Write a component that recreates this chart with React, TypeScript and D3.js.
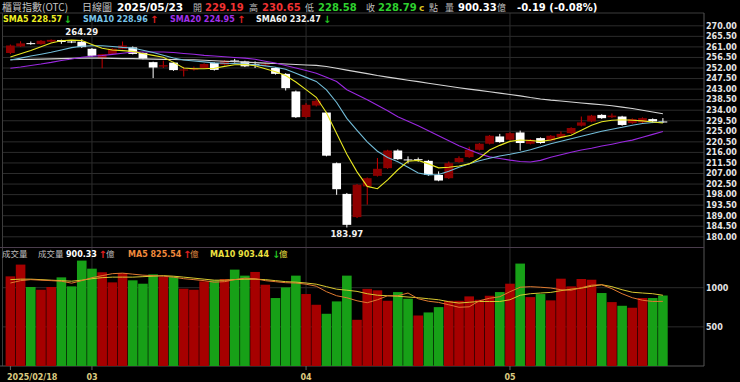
import React, { useEffect } from 'react';
import * as d3 from 'd3';

const febDays = [18, 19, 20, 21, 24, 25, 26, 27];
const marDays = [3, 4, 5, 6, 7, 10, 11, 12, 13, 14, 17, 18, 19, 20, 21, 24, 25, 26, 27, 28, 31];
const aprDays = [1, 2, 7, 8, 9, 10, 11, 14, 15, 16, 17, 18, 21, 22, 23, 24, 25, 28, 29, 30];
const mayDays = [2, 5, 6, 7, 8, 9, 12, 13, 14, 15, 16, 19, 20, 21, 22, 23];

const pad = (n: number) => (n < 10 ? '0' + n : '' + n);
const dates: string[] = [
  ...febDays.map((d) => `2025/02/${pad(d)}`),
  ...marDays.map((d) => `2025/03/${pad(d)}`),
  ...aprDays.map((d) => `2025/04/${pad(d)}`),
  ...mayDays.map((d) => `2025/05/${pad(d)}`),
];

const opens = [258.4, 261.2, 262.6, 262.2, 263.2, 263.9, 263.3, 263.2, 260.2, 256.2,
  258.0, 260.2, 260.8, 258.4, 254.5, 252.6, 254.3, 250.9, 251.3, 252.0,
  254.1, 253.4, 255.2, 254.8, 253.6, 253.1, 252.0, 249.5, 242.0, 231.1,
  236.0, 233.0, 211.4, 198.3, 188.4, 201.5, 206.0, 209.3, 216.8, 213.0,
  213.1, 212.4, 206.4, 205.0, 211.9, 214.0, 217.1, 219.7, 222.8, 221.4,
  224.5, 219.7, 222.1, 221.1, 222.5, 224.2, 227.4, 229.2, 232.0, 231.0,
  231.3, 228.5, 228.8, 230.2, 229.19];
const highs = [262.0, 263.4, 263.3, 263.9, 264.2, 264.1, 263.8, 264.29, 260.5, 258.0,
  260.4, 263.3, 261.2, 258.7, 254.7, 255.1, 254.6, 252.5, 252.6, 254.0,
  254.4, 255.4, 255.9, 255.1, 254.8, 254.2, 252.3, 249.8, 242.4, 237.0,
  238.6, 233.3, 211.7, 198.7, 202.5, 205.3, 213.6, 217.1, 217.3, 214.3,
  213.8, 212.8, 207.9, 212.1, 214.3, 218.4, 220.0, 223.4, 223.9, 224.6,
  225.3, 221.7, 222.4, 223.4, 224.9, 226.7, 231.3, 232.0, 232.3, 232.6,
  231.6, 230.5, 230.9, 230.5, 230.65];
const lows = [257.9, 261.0, 261.9, 261.9, 262.9, 262.3, 262.6, 260.6, 256.8, 251.9,
  257.8, 260.0, 257.8, 255.7, 247.7, 252.0, 250.8, 248.4, 250.9, 251.7,
  250.9, 253.1, 254.3, 252.4, 252.0, 252.8, 249.2, 242.4, 230.7, 230.8,
  235.6, 214.3, 197.9, 183.97, 188.0, 193.7, 205.7, 209.0, 212.8, 211.3,
  212.0, 206.0, 203.7, 204.7, 211.6, 213.7, 216.8, 219.4, 220.1, 221.1,
  216.8, 219.4, 219.7, 220.8, 222.2, 223.9, 227.1, 228.9, 230.3, 230.7,
  227.4, 228.2, 228.5, 228.5, 228.58];
const closes = [261.6, 262.5, 262.4, 263.6, 264.0, 263.1, 263.0, 260.9, 257.2, 257.9,
  260.2, 261.6, 258.0, 256.0, 252.2, 253.2, 251.1, 251.4, 251.8, 253.7,
  251.2, 255.1, 255.0, 252.7, 253.3, 253.6, 249.5, 243.4, 231.0, 236.3,
  238.0, 214.6, 200.3, 185.1, 202.2, 205.0, 209.0, 216.8, 213.1, 212.8,
  212.9, 206.4, 204.0, 211.4, 213.6, 217.1, 219.7, 223.1, 220.4, 224.2,
  220.0, 221.4, 220.0, 223.1, 223.9, 226.4, 228.8, 231.7, 230.6, 231.7,
  227.7, 230.2, 230.6, 229.2, 228.79];
const volumes = [1145, 1295, 1009, 974, 1009, 1132, 1017, 1346, 1243, 1197,
  1068, 1188, 1094, 1051, 1171, 1137, 1145, 987, 974, 1081,
  1094, 1111, 1231, 1154, 1201, 1038, 868, 1004, 1154, 919,
  782, 667, 825, 1154, 590, 985, 966, 833, 944, 859,
  645, 684, 752, 833, 833, 889, 846, 897, 944, 1051,
  1308, 880, 919, 838, 1115, 1017, 1111, 1102, 932, 816,
  769, 744, 868, 868, 900.33];

const sma5 = [256.7, 258.1, 259.5, 261.1, 262.7, 263.6, 263.9, 263.7, 262.0, 260.4,
  259.7, 259.4, 259.1, 258.2, 257.4, 256.6, 254.4, 252.0, 251.7, 251.7,
  251.9, 252.7, 253.4, 253.5, 252.95, 251.7, 250.4, 248.8, 246.0, 242.8,
  239.5, 232.9, 224.1, 215.2, 207.7, 201.5, 200.5, 204.3, 208.6, 212.2,
  212.6, 211.1, 209.4, 209.65, 210.2, 211.1, 213.5, 217.0, 219.0, 220.7,
  221.3, 221.1, 220.7, 221.3, 222.4, 223.3, 225.4, 227.6, 229.1, 229.7,
  229.9, 229.7, 229.45, 228.95, 228.57];
const sma10 = [255.4, 256.2, 257.1, 257.9, 258.7, 259.7, 260.7, 261.3, 261.5, 261.5,
  261.2, 260.8, 260.5, 259.6, 258.6, 257.4, 256.3, 255.4, 255.0, 254.6,
  254.2, 254.0, 253.9, 253.7, 253.4, 252.9, 252.35, 251.5, 249.75, 248.0,
  246.3, 242.7, 237.3, 230.5, 225.4, 220.5, 216.5, 213.8, 212.0, 209.7,
  207.2, 206.4, 206.6, 207.95, 209.65, 211.15, 212.4, 213.5, 214.5, 215.2,
  216.05, 217.1, 218.4, 219.7, 220.75, 221.8, 222.9, 223.95, 225.0, 225.9,
  226.7, 227.6, 228.3, 228.75, 228.96];
const sma20 = [251.9, 252.4, 253.1, 253.7, 254.4, 255.2, 255.85, 256.6, 257.0, 257.3,
  257.8, 258.3, 258.8, 258.8, 258.8, 258.8, 258.6, 258.2, 257.85, 257.4,
  257.1, 256.8, 256.5, 256.2, 255.7, 254.9, 254.1, 253.1, 252.0, 250.9,
  249.8, 248.05, 246.2, 242.7, 240.6, 238.45, 236.1, 233.75, 231.2, 229.3,
  227.35, 225.2, 223.1, 221.0, 218.8, 217.1, 215.4, 214.1, 213.4, 212.7,
  212.1, 211.9, 212.6, 213.9, 215.0, 216.05, 217.0, 217.8, 218.7, 219.5,
  220.4, 221.25, 222.45, 223.7, 224.95];
const sma60 = [255.5, 255.6, 255.7, 255.8, 255.9, 256.0, 256.1, 256.2, 256.2, 256.2,
  256.1, 256.0, 256.0, 255.9, 255.8, 255.7, 255.6, 255.5, 255.5, 255.3,
  255.1, 254.9, 254.7, 254.5, 254.3, 254.1, 253.9, 253.7, 253.5, 253.3,
  253.1, 252.65, 251.9, 251.1, 250.35, 249.6, 248.8, 248.1, 247.45, 246.8,
  246.2, 245.5, 244.85, 244.2, 243.6, 243.0, 242.45, 241.86, 241.3, 240.7,
  240.1, 239.4, 238.8, 238.3, 237.9, 237.5, 237.1, 236.7, 236.3, 235.9,
  235.3, 234.7, 234.0, 233.2, 232.47];
const volMa5 = [1060, 1090, 1103, 1096, 1090, 1083, 1058, 1090, 1128, 1154,
  1179, 1186, 1173, 1160, 1154, 1147, 1135, 1115, 1103, 1090,
  1071, 1077, 1103, 1122, 1115, 1090, 1077, 1064, 1060, 1045,
  1019, 949, 897, 872, 833, 808, 846, 897, 897, 932,
  859, 827, 812, 782, 750, 756, 833, 865, 885, 949,
  1006, 1013, 1006, 996, 974, 968, 1000, 1032, 1038, 987,
  923, 872, 840, 824, 825.54];
const volMa10 = [1103, 1109, 1109, 1103, 1096, 1090, 1083, 1096, 1115, 1128,
  1135, 1135, 1135, 1141, 1147, 1154, 1147, 1135, 1122, 1109,
  1096, 1096, 1103, 1109, 1109, 1103, 1090, 1077, 1071, 1060,
  1045, 1013, 981, 968, 953, 923, 904, 897, 891, 881,
  872, 859, 846, 821, 804, 814, 824, 824, 824, 846,
  904, 923, 932, 940, 962, 981, 994, 1019, 1038, 1013,
  974, 942, 932, 923, 903.44];

const priceTicks = [270, 265.5, 261, 256.5, 252, 247.5, 243, 238.5, 234, 229.5, 225,
  220.5, 216, 211.5, 207, 202.5, 198, 193.5, 189, 184.5, 180];
const volTicks = [500, 1000];

const NUM = '"DejaVu Sans", Verdana, sans-serif';
const CJK = '"Noto Sans CJK TC", "Noto Sans CJK SC", sans-serif';

export default function App() {
  useEffect(() => {
    document.body.style.margin = '0';
    document.body.style.background = '#000';
  }, []);

  const left = 2.5, right = 704, top = 13, mainBottom = 247.5, volBottom = 366;
  const x = d3.scaleBand<string>().domain(dates).range([5.3, 668]).padding(0);
  const bw = x.bandwidth();
  const cx = (i: number) => (x(dates[i]) as number) + bw / 2;
  const y = d3.scaleLinear().domain([180, 270]).range([236.8, 25.8]);
  const vy = d3.scaleLinear().domain([0, 1000]).range([volBottom, 287.7]);

  const line = d3.line<number>().x((_, i) => cx(i)).y((v) => y(v));
  const vline = d3.line<number>().x((_, i) => cx(i)).y((v) => vy(v));

  const monthStarts = dates
    .map((d, i) => ({ d, i }))
    .filter(({ d, i }) => i === 0 || d.slice(5, 7) !== dates[i - 1].slice(5, 7));

  const hiI = d3.maxIndex(highs);
  const loI = d3.minIndex(lows);
  const bodyW = bw * 0.86;

  const grid = '#2c2c2c';
  const border = '#3c3c3c';
  const arrowSize = 10;

  return (
    <svg width={740} height={382} style={{ display: 'block', position: 'absolute', left: 0, top: 0, background: '#000' }}>
      <rect x={0} y={0} width={740} height={382} fill="#000" />
      {priceTicks.map((t) => (
        <line key={'g' + t} x1={left} x2={right} y1={y(t)} y2={y(t)} stroke={grid} strokeWidth={1} />
      ))}
      {volTicks.map((t) => (
        <line key={'vg' + t} x1={left} x2={right} y1={vy(t)} y2={vy(t)} stroke={grid} strokeWidth={1} />
      ))}
      {monthStarts.filter((m) => m.i > 0).map((m) => (
        <line key={'vm' + m.i} x1={cx(m.i)} x2={cx(m.i)} y1={top} y2={volBottom} stroke={grid} strokeWidth={1} />
      ))}
      <line x1={0} x2={right} y1={top} y2={top} stroke={border} />
      <line x1={left} x2={left} y1={top} y2={volBottom} stroke={border} />
      <line x1={right} x2={right} y1={top} y2={volBottom} stroke="#555" />
      <line x1={0} x2={right} y1={mainBottom} y2={mainBottom} stroke="#4a3c4c" />
      <line x1={0} x2={right} y1={volBottom} y2={volBottom} stroke="#555" />

      {volumes.map((v, i) => {
        const up = i === 0 ? closes[i] >= opens[i] : closes[i] >= closes[i - 1];
        return (
          <rect key={'v' + i} x={(x(dates[i]) as number) + 0.3} width={bw - 0.6} y={vy(v)}
            height={volBottom - vy(v)} fill={up ? '#a60000' : '#17a017'} />
        );
      })}
      <path d={vline(volMa10) || ''} fill="none" stroke="#d8c830" strokeWidth={1} />
      <path d={vline(volMa5) || ''} fill="none" stroke="#e07a30" strokeWidth={1} />

      {dates.map((d, i) => {
        const o = opens[i], c = closes[i];
        const up = c >= o;
        const xc = cx(i);
        const t = y(Math.max(o, c));
        const b = y(Math.min(o, c));
        const h = Math.max(1, b - t);
        return (
          <g key={'c' + i}>
            <line x1={xc} x2={xc} y1={y(highs[i])} y2={y(lows[i])} stroke={up ? '#c80000' : '#ffffff'} strokeWidth={1} />
            <rect x={xc - bodyW / 2} width={bodyW} y={t} height={h} fill={up ? '#8e0000' : '#ffffff'} />
          </g>
        );
      })}

      <path d={line(sma60) || ''} fill="none" stroke="#d4d4d4" strokeWidth={1.1} />
      <path d={line(sma20) || ''} fill="none" stroke="#9a28e0" strokeWidth={1.1} />
      <path d={line(sma10) || ''} fill="none" stroke="#72bcd8" strokeWidth={1.1} />
      <path d={line(sma5) || ''} fill="none" stroke="#e8e820" strokeWidth={1.1} />

      <text x={cx(hiI)} y={y(highs[hiI]) - 4} fill="#f0f0f0" fontFamily={NUM} fontWeight="bold" fontSize={8.5} textAnchor="middle">
        {highs[hiI].toFixed(2)}
      </text>
      <text x={cx(loI)} y={y(lows[loI]) + 9.5} fill="#f0f0f0" fontFamily={NUM} fontWeight="bold" fontSize={8.5} textAnchor="middle">
        {lows[loI].toFixed(2)}
      </text>

      {priceTicks.map((t) => (
        <text key={'pt' + t} x={706} y={y(t)} dy="0.35em" fill="#e6e6e6" fontFamily={NUM} fontWeight="bold" fontSize={8}>
          {t.toFixed(2)}
        </text>
      ))}
      {volTicks.map((t) => (
        <text key={'vt' + t} x={706} y={vy(t)} dy="0.35em" fill="#e6e6e6" fontFamily={NUM} fontWeight="bold" fontSize={8}>
          {t}
        </text>
      ))}

      {monthStarts.map((m) => (
        <g key={'xt' + m.i}>
          <line x1={cx(m.i)} x2={cx(m.i)} y1={volBottom} y2={volBottom + 4} stroke="#666" />
          <text x={m.i === 0 ? 7 : cx(m.i)} y={380} fill="#dccb80" fontFamily={NUM} fontWeight="bold" fontSize={8}
            textAnchor={m.i === 0 ? 'start' : 'middle'}>
            {m.i === 0 ? m.d : m.d.slice(5, 7)}
          </text>
        </g>
      ))}

      <g fontSize={10}>
        <text x={2} y={11} fill="#c4c4c4" fontFamily={CJK}>櫃買指數(OTC)</text>
        <text x={82} y={11} fill="#c4c4c4" fontFamily={CJK}>日線圖</text>
        <text x={117} y={11} fill="#ffffff" fontFamily={NUM} fontWeight="bold" fontSize={10.5}>2025/05/23</text>
        <text x={193} y={11} fill="#bdbdbd" fontFamily={CJK} fontSize={9}>開</text>
        <text x={205} y={11} fill="#f03232" fontFamily={NUM} fontWeight="bold">{opens[64].toFixed(2)}</text>
        <text x={249} y={11} fill="#bdbdbd" fontFamily={CJK} fontSize={9}>高</text>
        <text x={262} y={11} fill="#f03232" fontFamily={NUM} fontWeight="bold">{highs[64].toFixed(2)}</text>
        <text x={305} y={11} fill="#bdbdbd" fontFamily={CJK} fontSize={9}>低</text>
        <text x={318} y={11} fill="#2ed02e" fontFamily={NUM} fontWeight="bold">{lows[64].toFixed(2)}</text>
        <text x={366} y={11} fill="#bdbdbd" fontFamily={CJK} fontSize={9}>收</text>
        <text x={378} y={11} fill="#2ed02e" fontFamily={NUM} fontWeight="bold">{closes[64].toFixed(2)}</text>
        <text x={419} y={11} fill="#d8c020" fontFamily={NUM} fontWeight="bold" fontSize={9}>c</text>
        <text x={429} y={11} fill="#bdbdbd" fontFamily={CJK} fontSize={9}>點</text>
        <text x={445} y={11} fill="#bdbdbd" fontFamily={CJK} fontSize={9}>量</text>
        <text x={458} y={11} fill="#ffffff" fontFamily={NUM} fontWeight="bold">{volumes[64].toFixed(2)}</text>
        <text x={497} y={11} fill="#bdbdbd" fontFamily={CJK} fontSize={9}>億</text>
        <text x={517} y={11} fill="#ffffff" fontFamily={NUM} fontWeight="bold">-0.19 (-0.08%)</text>
      </g>

      <g fontFamily={NUM} fontWeight="bold" fontSize={8}>
        <text x={3} y={22} fill="#eeee22">SMA5 {sma5[64].toFixed(2)}</text>
        <text x={63.5} y={22.5} fill="#22c022" fontSize={arrowSize}>↓</text>
        <text x={83} y={22} fill="#78c4e8">SMA10 {sma10[64].toFixed(2)}</text>
        <text x={150} y={22.5} fill="#e02020" fontSize={arrowSize}>↑</text>
        <text x={170} y={22} fill="#a030e8">SMA20 {sma20[64].toFixed(2)}</text>
        <text x={237} y={22.5} fill="#e02020" fontSize={arrowSize}>↑</text>
        <text x={256} y={22} fill="#f0f0f0">SMA60 {sma60[64].toFixed(2)}</text>
        <text x={323} y={22.5} fill="#22c022" fontSize={arrowSize}>↓</text>
      </g>

      <g fontSize={8}>
        <text x={2} y={257} fill="#bdbdbd" fontFamily={CJK} fontSize={8.5}>成交量</text>
        <text x={38} y={257} fill="#bdbdbd" fontFamily={CJK} fontSize={8.5}>成交量</text>
        <text x={66} y={257} fill="#ffffff" fontFamily={NUM} fontWeight="bold">{volumes[64].toFixed(2)}</text>
        <text x={98.5} y={257.5} fill="#e02020" fontFamily={NUM} fontWeight="bold" fontSize={arrowSize}>↑</text>
        <text x={106} y={257} fill="#bdbdbd" fontFamily={CJK} fontSize={8.5}>億</text>
        <text x={128} y={257} fill="#f08a3c" fontFamily={NUM} fontWeight="bold">MA5 {volMa5[64].toFixed(2)}</text>
        <text x={183} y={257.5} fill="#e02020" fontFamily={NUM} fontWeight="bold" fontSize={arrowSize}>↑</text>
        <text x={190} y={257} fill="#e08a40" fontFamily={CJK} fontSize={8.5}>億</text>
        <text x={210} y={257} fill="#ece040" fontFamily={NUM} fontWeight="bold">MA10 {volMa10[64].toFixed(2)}</text>
        <text x={272} y={257.5} fill="#22c022" fontFamily={NUM} fontWeight="bold" fontSize={arrowSize}>↓</text>
        <text x={279} y={257} fill="#ece040" fontFamily={CJK} fontSize={8.5}>億</text>
      </g>
    </svg>
  );
}
